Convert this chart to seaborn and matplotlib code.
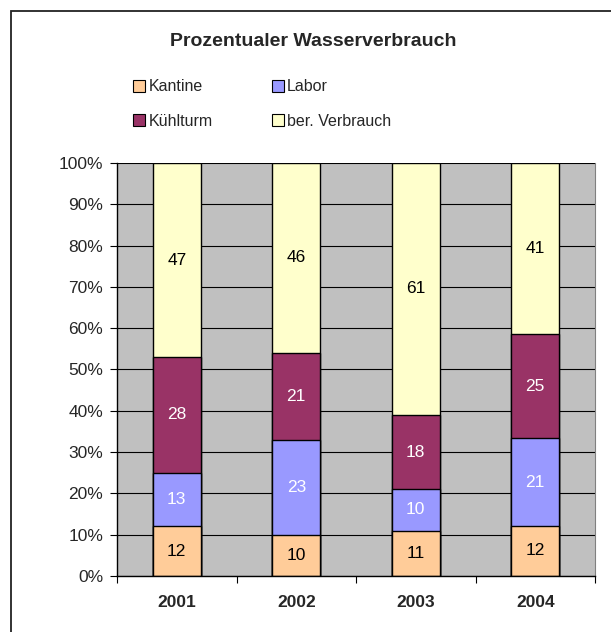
import numpy as np
import pandas as pd
import seaborn as sns
import matplotlib.pyplot as plt
import matplotlib.ticker as mticker
from matplotlib.patches import Patch, Rectangle

years = ['2001', '2002', '2003', '2004']
series = ['Kantine', 'Labor', 'Kühlturm', 'ber. Verbrauch']
kantine = [12, 10, 11, 12]
labor = [13, 23, 10, 21]
kuehlturm = [28, 21, 18, 25]
verbrauch = [47, 46, 61, 41]
colors = ['#FFCC99', '#9999FF', '#993366', '#FFFFCC']
label_colors = ['black', 'white', 'white', 'black']

sns.set_style('white')
plt.rcParams['font.family'] = ['Liberation Sans', 'DejaVu Sans']

df = pd.DataFrame({'year': years, 'Kantine': kantine, 'Labor': labor,
                   'Kühlturm': kuehlturm, 'ber. Verbrauch': verbrauch})
vals = df[series]
pct = vals.div(vals.sum(axis=1), axis=0)
cum = pct.cumsum(axis=1)

fig = plt.figure(figsize=(6.11, 6.32), dpi=100)
ax = fig.add_axes([117 / 611, 1 - 576 / 632, 478 / 611, 413 / 632])
ax.set_facecolor('#C0C0C0')
ax.set_axisbelow(True)
ax.yaxis.grid(True, color='black', linewidth=0.8)

# stacked bars: draw cumulative totals from top down
for i in reversed(range(len(series))):
    sns.barplot(x=df['year'], y=cum[series[i]], color=colors[i], width=0.4,
                edgecolor='black', linewidth=1, saturation=1, ax=ax)

for i, s in enumerate(series):
    for j in range(len(years)):
        ymid = cum[s][j] - pct[s][j] / 2
        ax.text(j, ymid, str(vals[s][j]), ha='center', va='center',
                color=label_colors[i], fontsize=12.5)

ax.set_xlim(-0.5, len(years) - 0.5)
ax.set_ylim(0, 1)
ax.yaxis.set_major_locator(mticker.MultipleLocator(0.1))
ax.yaxis.set_major_formatter(mticker.PercentFormatter(1, decimals=0))
ax.tick_params(axis='y', left=True, length=5, width=0.8, direction='out',
               labelsize=12.5, pad=5, color='black')
ax.set_xticks(range(len(years)))
ax.set_xticklabels(years, fontweight='bold', fontsize=12.5)
ax.set_xticks([k - 0.5 for k in range(len(years) + 1)], minor=True)
ax.tick_params(axis='x', which='major', length=0, pad=14)
ax.tick_params(axis='x', which='minor', bottom=True, length=5, width=0.8,
               color='black')
ax.set_xlabel('')
ax.set_ylabel('')

ax.spines['top'].set_visible(False)
ax.spines['right'].set_color('#808080')
for side in ['left', 'bottom']:
    ax.spines[side].set_color('black')
    ax.spines[side].set_linewidth(1)

# legend in row order
handles = [Patch(facecolor=c, edgecolor='black', linewidth=0.8, label=s)
           for s, c in zip(series, colors)]
order = [0, 2, 1, 3]
fig.legend([handles[k] for k in order], [series[k] for k in order],
           loc='upper left', bbox_to_anchor=(119 / 611, 1 - 65 / 632),
           ncol=2, frameon=False, fontsize=11.5, handlelength=0.75,
           handleheight=0.75, handletextpad=0.2, labelspacing=1.2,
           columnspacing=3.7)

fig.text(313 / 611, 1 - 42 / 632, 'Prozentualer Wasserverbrauch',
         ha='center', va='center', fontsize=14, fontweight='bold')

# chart border (only top and left edges fall inside the image)
fig.patches.append(Rectangle((11 / 611, -0.5), 2, 1.5 - 11 / 632,
                             transform=fig.transFigure, fill=False,
                             edgecolor='#222222', linewidth=1.3))

fig.savefig('out.png', dpi=100)
